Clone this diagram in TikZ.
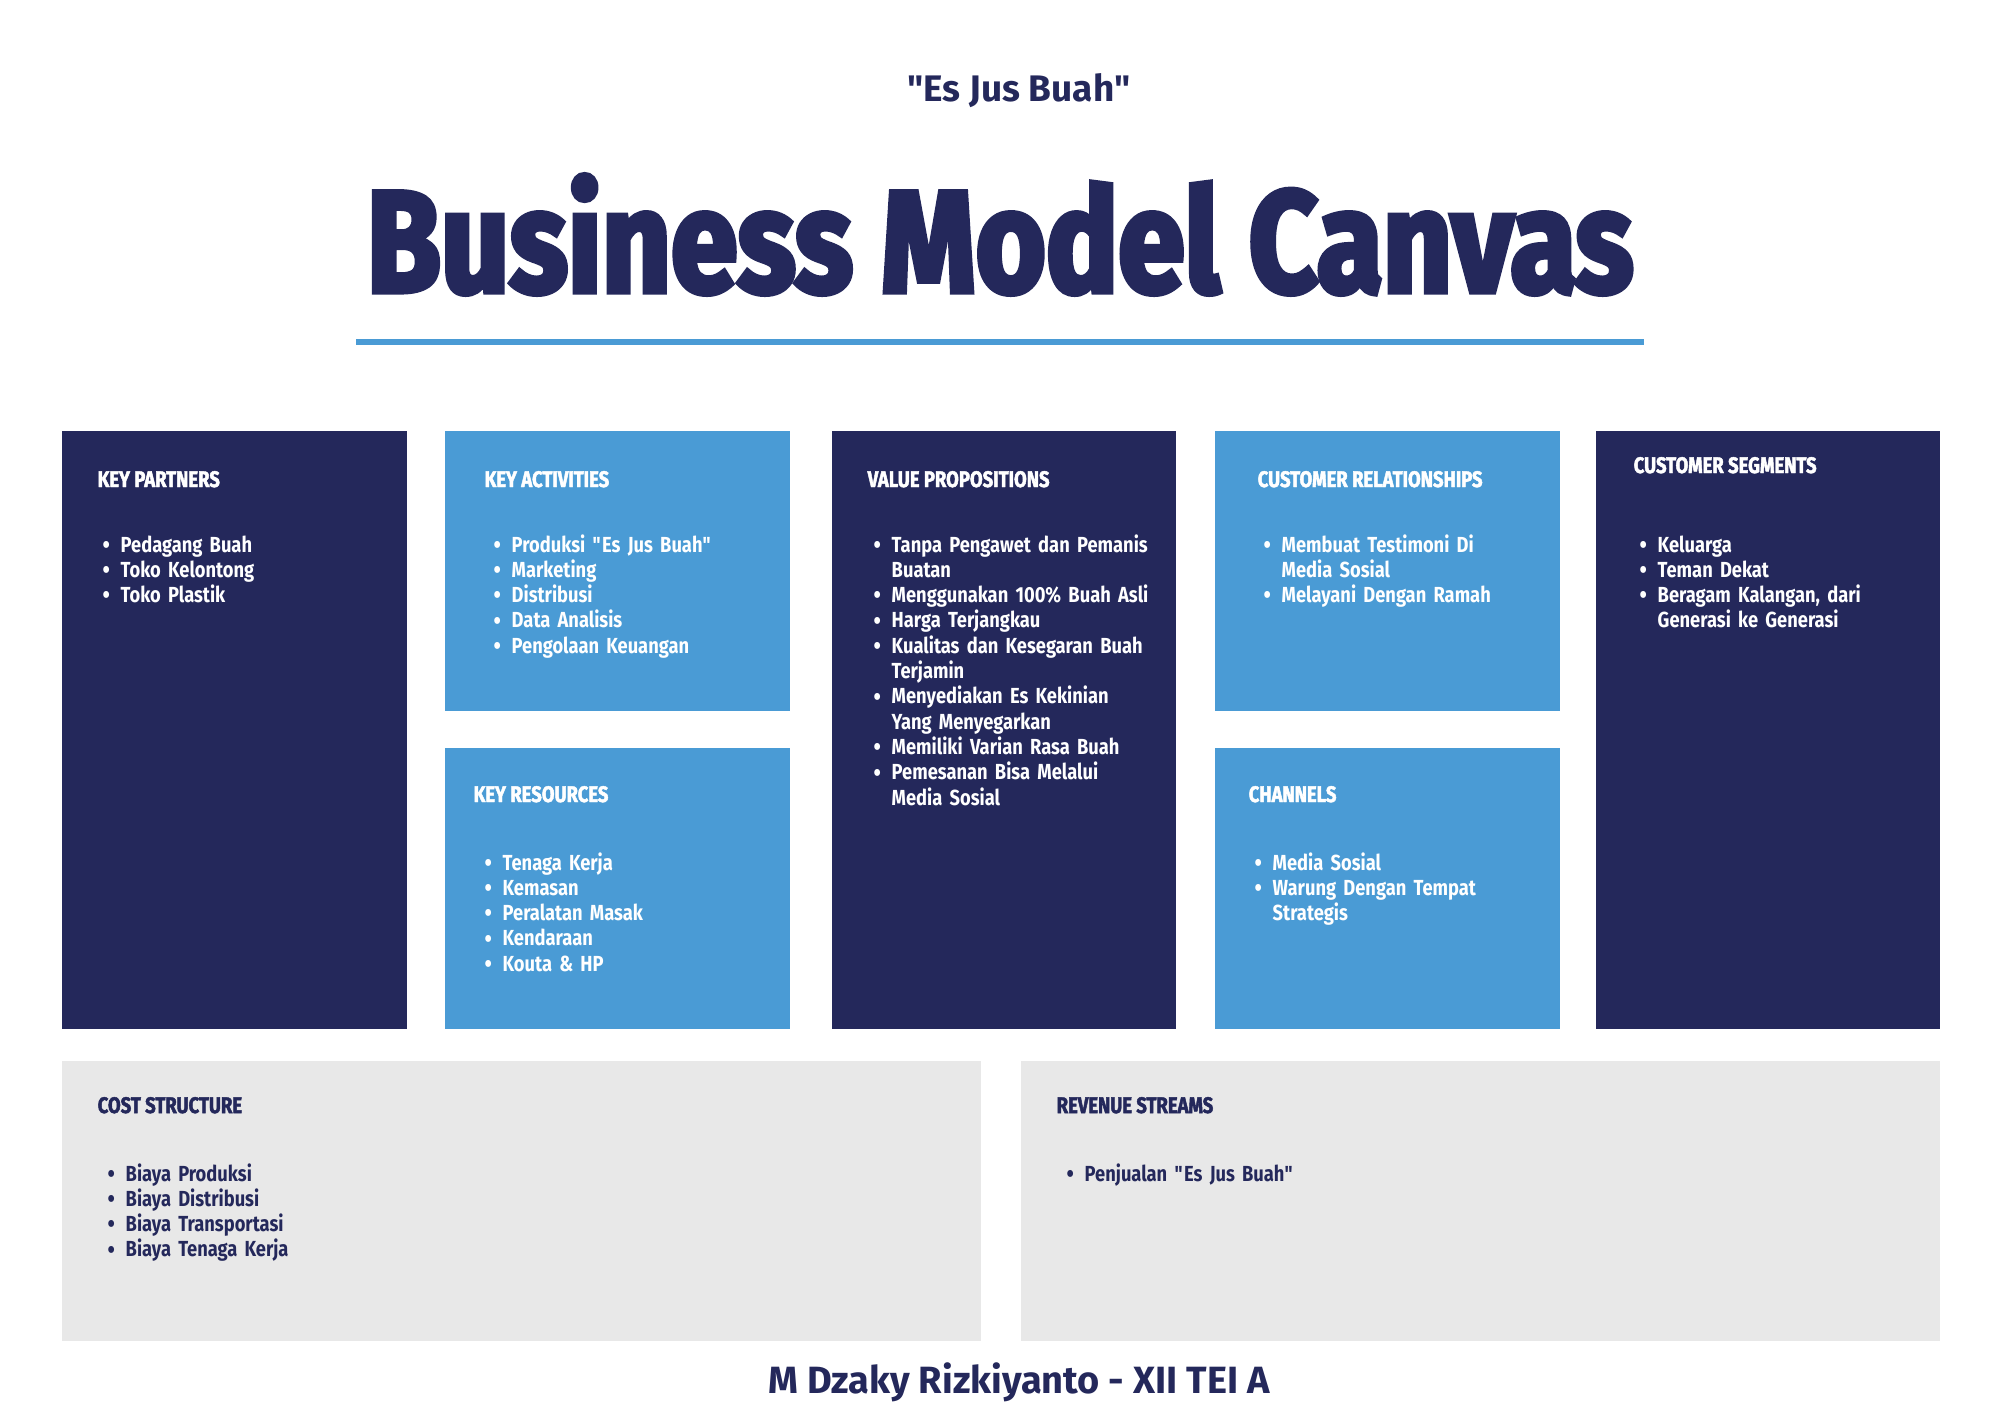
\documentclass[tikz,border=0pt]{standalone}
\usepackage{fontspec}
\setmainfont[FakeStretch=0.84]{Fira Sans}
\newfontfamily\labelfont{Fira Sans}
\newfontfamily\headfont[FakeStretch=0.82, FakeBold=2]{Fira Sans}
\newfontfamily\titlefont[FakeStretch=0.83, FakeBold=3.5]{Fira Sans}
\usetikzlibrary{positioning, calc}

\definecolor{bmcnavy}{HTML}{24285B}
\definecolor{bmcblue}{HTML}{4A9BD5}
\definecolor{bmcgrey}{HTML}{E8E8E8}

\newlength\bulind
\setlength\bulind{0.18cm}
\newcommand{\li}[1]{\noindent\hangindent=\bulind\hangafter=1%
  \makebox[\bulind][l]{\raisebox{-0.1ex}{\scalebox{1.15}{\textbullet}}}#1\par}

\tikzset{
  cell/.style     = {rectangle, draw=none, anchor=north west, inner sep=0pt},
  navycell/.style = {cell, fill=bmcnavy},
  bluecell/.style = {cell, fill=bmcblue},
  greycell/.style = {cell, fill=bmcgrey},
  cellhead/.style = {anchor=base west, inner sep=0pt,
                     font=\headfont\bfseries\fontsize{6.4}{7}\selectfont},
  celllist/.style = {anchor=base west, inner sep=0pt, text width=3cm,
                     font=\bfseries\fontsize{6.2}{7.2}\selectfont},
}

\begin{document}
\begin{tikzpicture}[x=0.01cm, y=-0.01cm]
\useasboundingbox[fill=white] (0,0) rectangle (2000,1414);

% ── Header ──────────────────────────────────────────────────
\node[anchor=base, inner sep=0pt, text=bmcnavy,
      font=\labelfont\bfseries\fontsize{10.5}{12}\selectfont] (brand) at (1019,101)
  {\textquotedbl Es Jus Buah\textquotedbl};
\node[anchor=base, inner sep=0pt, text=bmcnavy] (title) at (1000,292)
  {\resizebox{12.66cm}{!}{\titlefont\bfseries Business Model Canvas}};
\node[fill=bmcblue, inner sep=0pt, minimum width=12.88cm,
      minimum height=0.06cm] (rule) at (1000,342) {};

% ── Top row: partners | activities/resources | value | relations/channels | segments
\node[navycell, minimum width=3.45cm, minimum height=5.98cm] (kp) at (61,430) {};
\node[cellhead, text=white] (kp-h) at ($(kp.north west)+(36,57)$) {KEY PARTNERS};
\node[celllist, text=white] (kp-l) at ($(kp.north west)+(41,122)$)
  {\li{Pedagang Buah}
   \li{Toko Kelontong}
   \li{Toko Plastik}};

\node[bluecell, minimum width=3.45cm, minimum height=2.80cm] (ka) at (444,430) {};
\node[cellhead, text=white] (ka-h) at ($(ka.north west)+(40,57)$) {KEY ACTIVITIES};
\node[celllist, text=white] (ka-l) at ($(ka.north west)+(49,122)$)
  {\li{Produksi \textquotedbl Es Jus Buah\textquotedbl}
   \li{Marketing}
   \li{Distribusi}
   \li{Data Analisis}
   \li{Pengolaan Keuangan}};

\node[bluecell, minimum width=3.45cm, minimum height=2.81cm] (kr) at (444,747) {};
\node[cellhead, text=white] (kr-h) at ($(kr.north west)+(29,55)$) {KEY RESOURCES};
\node[celllist, text=white] (kr-l) at ($(kr.north west)+(40,123)$)
  {\li{Tenaga Kerja}
   \li{Kemasan}
   \li{Peralatan Masak}
   \li{Kendaraan}
   \li{Kouta \& HP}};

\node[navycell, minimum width=3.44cm, minimum height=5.98cm] (vp) at (831,430) {};
\node[cellhead, text=white] (vp-h) at ($(vp.north west)+(36,57)$) {VALUE PROPOSITIONS};
\node[celllist, text=white] (vp-l) at ($(vp.north west)+(42,122)$)
  {\li{Tanpa Pengawet dan Pemanis\newline Buatan}
   \li{Menggunakan 100\% Buah Asli}
   \li{Harga Terjangkau}
   \li{Kualitas dan Kesegaran Buah\newline Terjamin}
   \li{Menyediakan Es Kekinian\newline Yang Menyegarkan}
   \li{Memiliki Varian Rasa Buah}
   \li{Pemesanan Bisa Melalui\newline Media Sosial}};

\node[bluecell, minimum width=3.45cm, minimum height=2.80cm] (cr) at (1214,430) {};
\node[cellhead, text=white] (cr-h) at ($(cr.north west)+(43,57)$) {CUSTOMER RELATIONSHIPS};
\node[celllist, text=white] (cr-l) at ($(cr.north west)+(49,122)$)
  {\li{Membuat Testimoni Di\newline Media Sosial}
   \li{Melayani Dengan Ramah}};

\node[bluecell, minimum width=3.45cm, minimum height=2.81cm] (ch) at (1214,747) {};
\node[cellhead, text=white] (ch-h) at ($(ch.north west)+(34,55)$) {CHANNELS};
\node[celllist, text=white] (ch-l) at ($(ch.north west)+(40,123)$)
  {\li{Media Sosial}
   \li{Warung Dengan Tempat\newline Strategis}};

\node[navycell, minimum width=3.44cm, minimum height=5.98cm] (cs) at (1595,430) {};
\node[cellhead, text=white] (cs-h) at ($(cs.north west)+(38,43)$) {CUSTOMER SEGMENTS};
\node[celllist, text=white] (cs-l) at ($(cs.north west)+(44,122)$)
  {\li{Keluarga}
   \li{Teman Dekat}
   \li{Beragam Kalangan, dari\newline Generasi ke Generasi}};

% ── Bottom row: costs | revenue ─────────────────────────────
\node[greycell, minimum width=9.19cm, minimum height=2.80cm] (cst) at (61,1060) {};
\node[cellhead, text=bmcnavy] (cst-h) at ($(cst.north west)+(36,53)$) {COST STRUCTURE};
\node[celllist, text=bmcnavy] (cst-l) at ($(cst.north west)+(46,121)$)
  {\li{Biaya Produksi}
   \li{Biaya Distribusi}
   \li{Biaya Transportasi}
   \li{Biaya Tenaga Kerja}};

\node[greycell, minimum width=9.19cm, minimum height=2.80cm] (rs) at (1020,1060) {};
\node[cellhead, text=bmcnavy] (rs-h) at ($(rs.north west)+(36,53)$) {REVENUE STREAMS};
\node[celllist, text=bmcnavy] (rs-l) at ($(rs.north west)+(46,121)$)
  {\li{Penjualan \textquotedbl Es Jus Buah\textquotedbl}};

% ── Footer ──────────────────────────────────────────────────
\node[anchor=base, inner sep=0pt, text=bmcnavy,
      font=\labelfont\bfseries\fontsize{10.8}{12}\selectfont] (author) at (1019,1393)
  {M Dzaky Rizkiyanto - XII TEI A};

\end{tikzpicture}
\end{document}
